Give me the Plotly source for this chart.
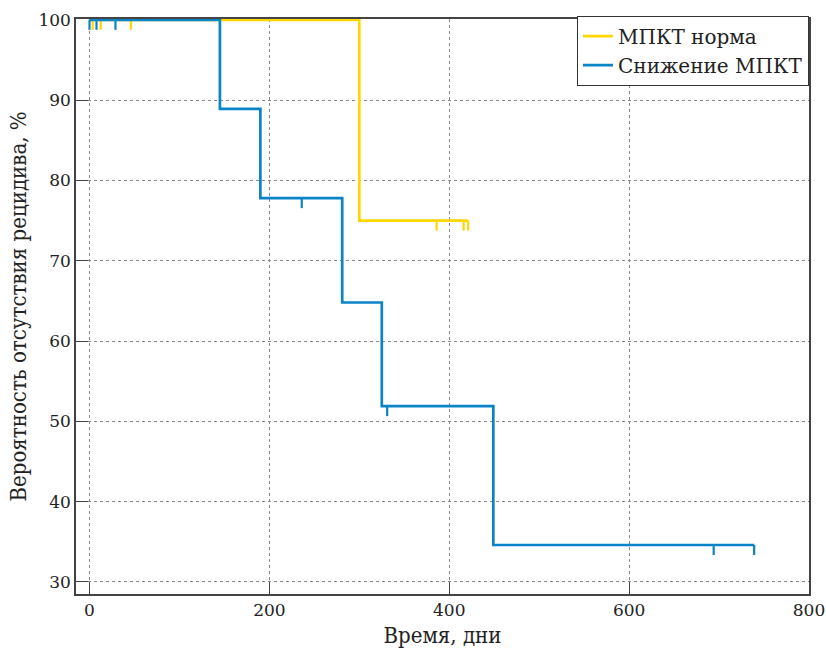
import plotly.graph_objects as go

# Data
norm_name = "МПКТ норма"
norm_time = [0, 300, 421]
norm_surv = [100, 75, 75]
norm_cens_time = [3.5, 12.4, 46, 386, 416, 421]
norm_cens_surv = [100, 100, 100, 75, 75, 75]

low_name = "Снижение МПКТ"
low_time = [0, 145, 190, 281, 325, 449, 739]
low_surv = [100, 88.9, 77.8, 64.8, 51.9, 34.6, 34.6]
low_cens_time = [0, 7.8, 28.9, 236, 331, 694, 739]
low_cens_surv = [100, 100, 100, 77.8, 51.9, 34.6, 34.6]

x_ticks = [0, 200, 400, 600, 800]
y_ticks = [30, 40, 50, 60, 70, 80, 90, 100]

YELLOW = "#FFD600"
BLUE = "#0A84C6"
FONT = "DejaVu Serif"
TITLE_FONT = "DejaVu Serif Condensed"
CENS_LEN = 1.25  # tick length in y units

fig = go.Figure()

def add_group(name, t, s, ct, cs, color):
    fig.add_trace(go.Scatter(x=t, y=s, mode="lines", name=name,
                             line=dict(color=color, width=2.7, shape="hv")))
    fig.add_trace(go.Scatter(x=ct, y=cs, mode="markers", showlegend=False,
                             marker=dict(size=1, opacity=0, color=color),
                             error_y=dict(type="data", symmetric=False,
                                          array=[0] * len(ct),
                                          arrayminus=[CENS_LEN] * len(ct),
                                          width=0, thickness=2.2, color=color),
                             hoverinfo="skip"))

add_group(norm_name, norm_time, norm_surv, norm_cens_time, norm_cens_surv, YELLOW)
add_group(low_name, low_time, low_surv, low_cens_time, low_cens_surv, BLUE)

fig.update_layout(
    width=826, height=651,
    margin=dict(l=76, r=17, t=19, b=57),
    paper_bgcolor="white", plot_bgcolor="white",
    font=dict(family=FONT, size=17, color="#222"),
    legend=dict(x=1, y=1.006, xanchor="right", yanchor="top",
                bordercolor="#333", borderwidth=1, bgcolor="white",
                font=dict(size=20), tracegroupgap=0),
    xaxis=dict(range=[-15, 800], tickvals=x_ticks, ticks="inside", ticklen=12,
               tickcolor="#444", showline=True, mirror=True, linecolor="#444",
               linewidth=1.5, showgrid=True, gridcolor="#888", griddash="dot",
               gridwidth=1, zeroline=False, automargin=False,
               ticklabeloverflow="allow",
               title=dict(text="Время, дни", standoff=8,
                          font=dict(family=TITLE_FONT, size=22))),
    yaxis=dict(range=[28.5, 100.1], tickvals=y_ticks, ticks="inside", ticklen=12,
               tickcolor="#444", showline=True, mirror=True, linecolor="#444",
               linewidth=1.5, showgrid=True, gridcolor="#888", griddash="dot",
               gridwidth=1, zeroline=False, automargin=False,
               ticklabeloverflow="allow",
               title=dict(text="Вероятность отсутствия рецидива, %", standoff=6,
                          font=dict(family=TITLE_FONT, size=22))),
)

fig.write_html("out.html",
               config={"displayModeBar": False},
               post_script="document.body.style.margin='0';"
                           "document.body.style.overflow='hidden';")
